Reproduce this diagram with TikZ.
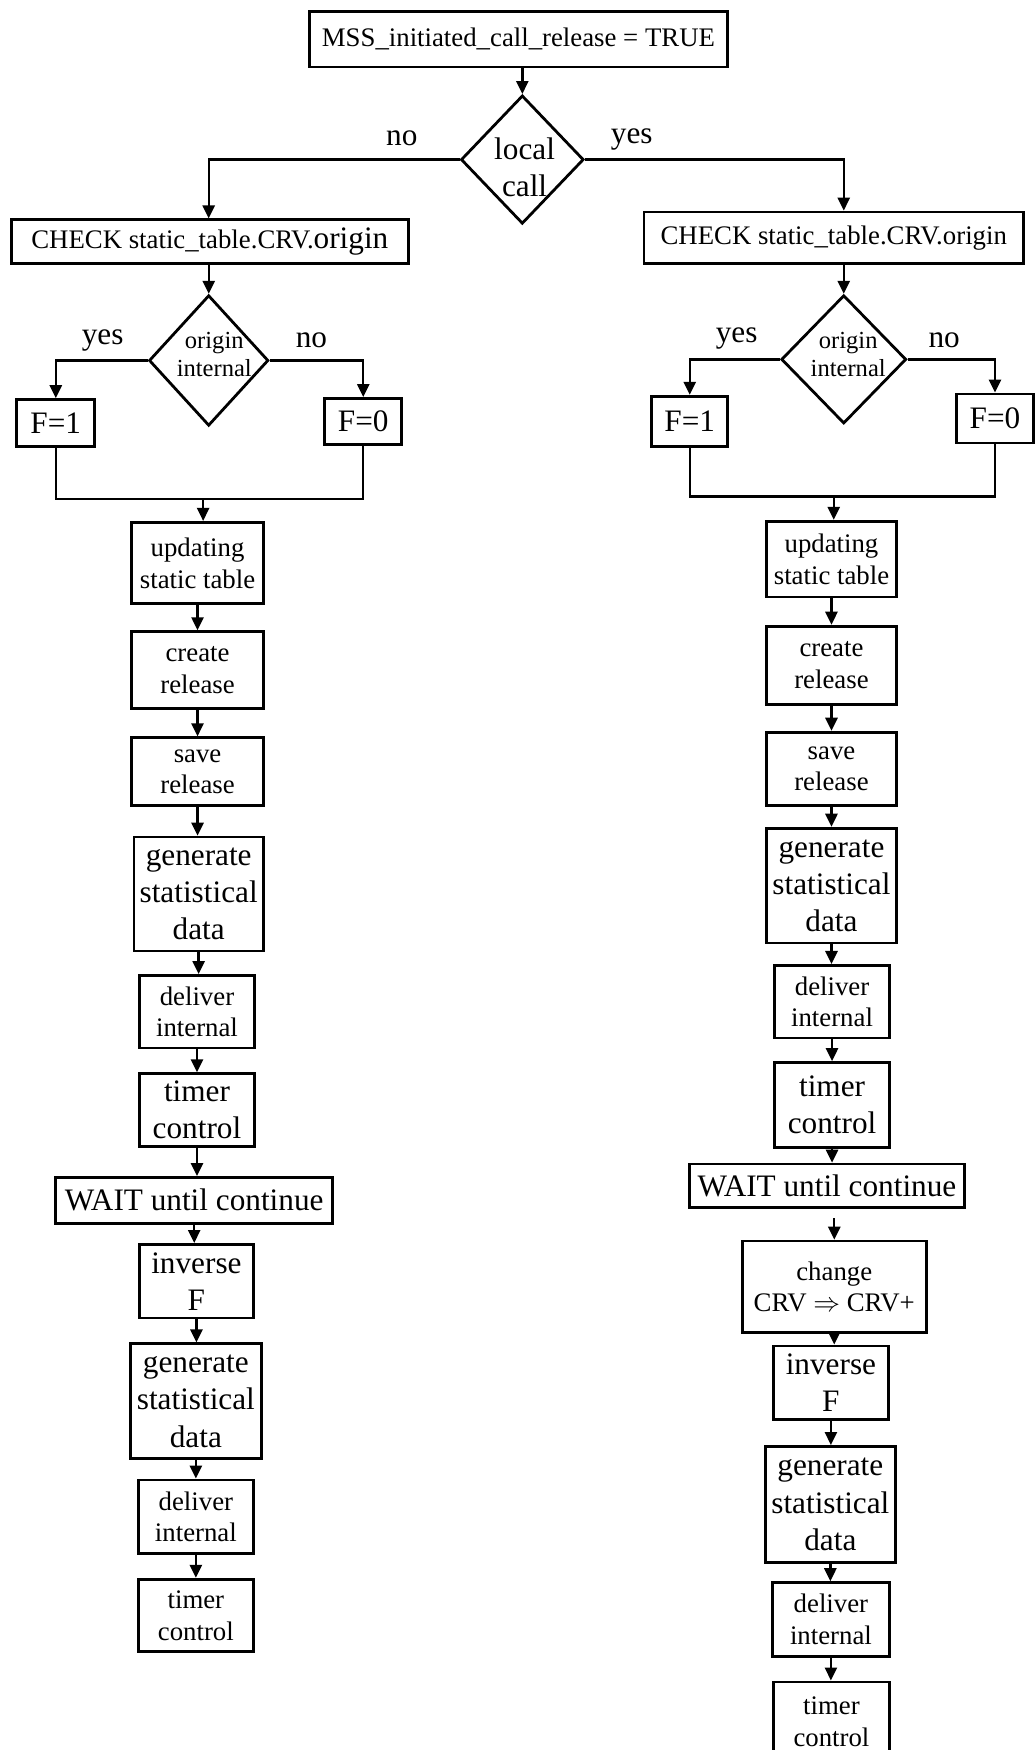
\documentclass[tikz,border=0pt]{standalone}
\usepackage{fontspec}
\setmainfont{Liberation Serif}
\usetikzlibrary{arrows.meta,shapes.geometric}

% type sizes used in the chart
\newcommand\bigtxt{\fontsize{16.8}{20}\selectfont}
\newcommand\smalltxt{\fontsize{14.4}{17}\selectfont}
\newcommand\midtxt{\fontsize{13.2}{15}\selectfont}

% \flowbox{name}{x1}{y1}{x2}{y2}{font}{text}: a process box given by its corners
\newcommand\flowbox[7]{%
  \node[box, font=#6, minimum width={(#4-#2)*0.6pt}, minimum height={(#5-#3)*0.6pt}]
    (#1) at ({(#2+#4)/2},{(#3+#5)/2}) {#7};}

\tikzset{
  box/.style={draw, line width=1.5pt, inner sep=0pt, align=center, fill=white},
  decision/.style={draw, diamond, line width=1.5pt, inner sep=0pt},
  flow/.style={line width=1.3pt, -{Triangle[length=7pt,width=6.5pt]}},
  mergeline/.style={line width=1.3pt},
  answer/.style={font=\bigtxt, inner sep=0pt},
}

\begin{document}
\begin{tikzpicture}[x=0.6pt, y=-0.6pt]
\useasboundingbox (0,0) rectangle (928,1568);
\fill[white] (0,0) rectangle (928,1568);
\clip (0,0) rectangle (928,1568);

% ---- start and first decision
\flowbox{start}{277}{10}{652}{60}{\smalltxt}{MSS\_initiated\_call\_release = TRUE}
\node[decision, minimum width=110*0.6pt, minimum height=115*0.6pt] (lc) at (468,143) {};
\node[font=\bigtxt, align=center, inner sep=0pt] (lctext) at (470,150) {local\\call};

\flowbox{chkL}{10}{197}{366}{236}{\smalltxt}{CHECK static\_table.CRV.{\bigtxt origin}}
\flowbox{chkR}{577}{190}{917}{236}{\smalltxt}{CHECK static\_table.CRV.origin}

% ---- origin decisions
\node[decision, minimum width=107*0.6pt, minimum height=117*0.6pt] (oL) at (187,323) {};
\node[font=\midtxt, align=center, inner sep=0pt] (oLtext) at (192,318) {origin\\internal};
\node[decision, minimum width=112*0.6pt, minimum height=115*0.6pt] (oR) at (756,322) {};
\node[font=\midtxt, align=center, inner sep=0pt] (oRtext) at (760,318) {origin\\internal};

\flowbox{f1L}{15}{358}{85}{400}{\bigtxt}{F=1}
\flowbox{f0L}{291}{357}{360}{398}{\bigtxt}{F=0}
\flowbox{f1R}{584}{355}{652}{400}{\bigtxt}{F=1}
\flowbox{f0R}{857}{353}{926}{397}{\bigtxt}{F=0}

\coordinate (mL) at (182,447);
\coordinate (mR) at (747,445);

% ---- left column
\flowbox{updL}{118}{468}{236}{541}{\smalltxt}{updating\\static table}
\flowbox{creL}{118}{566}{236}{635}{\smalltxt}{create\\release}
\flowbox{savL}{118}{661}{236}{722}{\smalltxt}{save\\release}
\flowbox{genL}{120}{750}{236}{852}{\bigtxt}{generate\\statistical\\data}
\flowbox{delL}{125}{874}{228}{939}{\smalltxt}{deliver\\internal}
\flowbox{timL}{125}{962}{228}{1027}{\bigtxt}{timer\\control}
\flowbox{waitL}{50}{1055}{298}{1096}{\bigtxt}{WAIT until continue}
\flowbox{invL}{125}{1115}{227}{1181}{\bigtxt}{inverse\\F}
\flowbox{gentL}{117}{1204}{234}{1307}{\bigtxt}{generate\\statistical\\data}
\flowbox{deltL}{124}{1326}{227}{1392}{\smalltxt}{deliver\\internal}
\flowbox{timtL}{124}{1415}{227}{1480}{\smalltxt}{timer\\control}

% ---- right column
\flowbox{updR}{687}{467}{803}{535}{\smalltxt}{updating\\static table}
\flowbox{creR}{687}{561}{803}{631}{\smalltxt}{create\\release}
\flowbox{savR}{687}{656}{803}{722}{\smalltxt}{save\\release}
\flowbox{genR}{687}{742}{803}{845}{\bigtxt}{generate\\statistical\\data}
\flowbox{delR}{694}{865}{797}{930}{\smalltxt}{deliver\\internal}
\flowbox{timR}{694}{952}{797}{1028}{\bigtxt}{timer\\control}
\flowbox{waitR}{618}{1043}{864}{1082}{\bigtxt}{WAIT until continue}
\flowbox{chgR}{665}{1112}{830}{1194}{\smalltxt}{change\\CRV $\Rightarrow$ CRV+}
\flowbox{invR}{693}{1206}{796}{1272}{\bigtxt}{inverse\\F}
\flowbox{gentR}{686}{1296}{802}{1400}{\bigtxt}{generate\\statistical\\data}
\flowbox{deltR}{692}{1418}{797}{1484}{\smalltxt}{deliver\\internal}
\flowbox{timtR}{693}{1507}{797}{1578}{\smalltxt}{timer\\control}

% ---- branch labels
\node[answer] (noTop) at (360,124) {no};
\node[answer] (yesTop) at (566,125) {yes};
\node[answer] (yesL) at (92,305) {yes};
\node[answer] (noL) at (279,305) {no};
\node[answer] (yesR) at (660,303) {yes};
\node[answer] (noR) at (846,305) {no};

% ---- connectors, top part
\draw[flow] (lc.north |- start.south) -- (lc.north);
\draw[flow] (lc.west) -| (oL.north |- chkL.north);
\draw[flow] (lc.east) -| (oR.north |- chkR.north);
\draw[flow] (oL.north |- chkL.south) -- (oL.north);
\draw[flow] (oR.north |- chkR.south) -- (oR.north);
\draw[flow] (oL.west) -| (f1L.north);
\draw[flow] (oL.east) -| (f0L.north);
\draw[flow] (oR.west) -| (f1R.north);
\draw[flow] (oR.east) -| (f0R.north);
\draw[mergeline] (f1L.south) |- (mL) -| (f0L.south);
\draw[mergeline] (f1R.south) |- (mR) -| (f0R.south);
\draw[flow] (mL) -- (mL |- updL.north);
\draw[flow] (mR) -- (mR |- updR.north);

% ---- connectors down each column
\foreach \a/\b in {updL/creL, creL/savL, savL/genL, genL/delL, delL/timL, timL/waitL,
                   waitL/invL, invL/gentL, gentL/deltL, deltL/timtL,
                   updR/creR, creR/savR, savR/genR, genR/delR, delR/timR, timR/waitR,
                   chgR/invR, invR/gentR, gentR/deltR, deltR/timtR}
  \draw[flow] (\a.south) -- (\a.south |- \b.north);
\draw[flow, shorten <=5pt] (waitR.south -| chgR.north) -- (chgR.north);
\end{tikzpicture}
\end{document}
